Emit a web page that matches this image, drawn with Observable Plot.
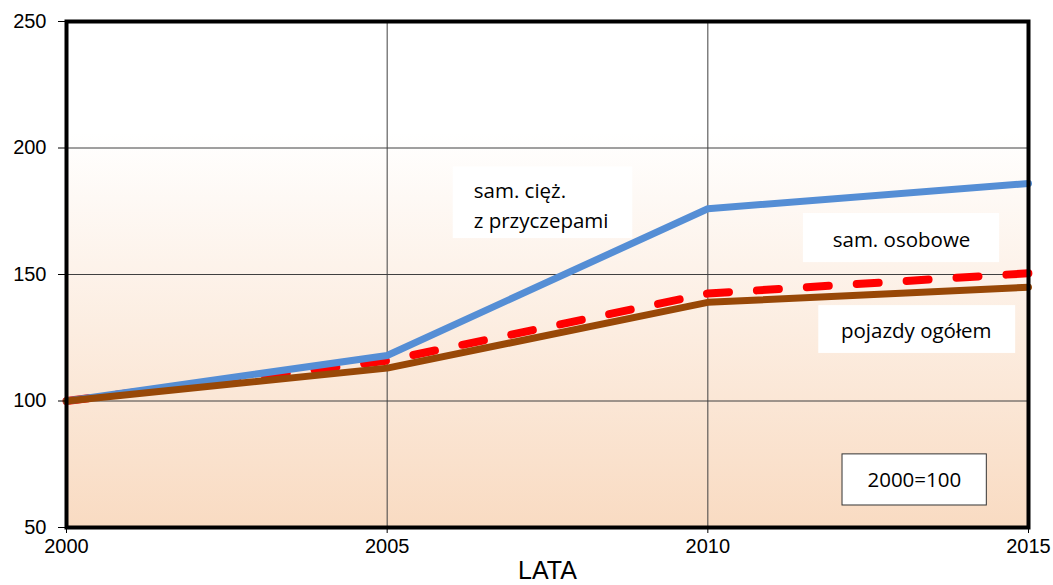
<!DOCTYPE html>
<html>
<head>
<meta charset="utf-8">
<script src="https://cdn.jsdelivr.net/npm/d3@7"></script>
<script src="https://cdn.jsdelivr.net/npm/@observablehq/plot@0.6"></script>
<style>
  html, body { margin: 0; padding: 0; background: #ffffff; }
  #chart svg { display: block; }
</style>
</head>
<body>
<div id="chart"></div>
<script>
// ---- data ----
const years = [2000, 2005, 2010, 2015];
const ciezarowe = [100, 118, 176, 186];   // sam. cięż. z przyczepami
const osobowe = [100, 116, 142.5, 150.5]; // sam. osobowe
const ogolem = [100, 113, 139, 145];      // pojazdy ogółem
const yTicks = [50, 100, 150, 200, 250];
const xLabel = "LATA";

// annotation boxes (in data units)
const boxes = [
  {x1: 2006.03, x2: 2008.83, y1: 164.2, y2: 192.5},
  {x1: 2011.49, x2: 2014.55, y1: 154.7, y2: 174.1},
  {x1: 2011.73, x2: 2014.80, y1: 118.8, y2: 137.7}
];
const noteBox = [{x1: 2012.10, x2: 2014.35, y1: 58.7, y2: 78.9}];
const leftLabels = [
  {x: 2006.35, y: 178.1, text: "sam. cięż.\nz przyczepami"}
];
const centerLabels = [
  {x: 2013.02, y: 163.4, text: "sam. osobowe"},
  {x: 2013.25, y: 127.5, text: "pojazdy ogółem"},
  {x: 2013.22, y: 68.6, text: "2000=100"}
];

const series = (vals) => years.map((y, i) => ({year: y, value: vals[i]}));
const labelFont = "'Open Sans', Lato, sans-serif";

const chart = Plot.plot({
  width: 1053,
  height: 585,
  marginLeft: 66,
  marginRight: 25,
  marginTop: 21,
  marginBottom: 58,
  style: {fontFamily: "'Liberation Sans', Arial, sans-serif", background: "#ffffff", fontSize: "20px"},
  x: {domain: [2000, 2015]},
  y: {domain: [50, 250]},
  marks: [
    Plot.frame({fill: "url(#bgGrad)", stroke: "none"}),
    Plot.gridX([2005, 2010], {stroke: "#404040", strokeOpacity: 1, strokeWidth: 1}),
    Plot.gridY([100, 150, 200], {stroke: "#404040", strokeOpacity: 1, strokeWidth: 1}),
    Plot.line(series(osobowe), {x: "year", y: "value", stroke: "#ff0000", strokeWidth: 8,
      strokeDasharray: "22,28", strokeLinecap: "round", strokeLinejoin: "round"}),
    Plot.line(series(ciezarowe), {x: "year", y: "value", stroke: "#558ed5", strokeWidth: 7, strokeLinejoin: "round"}),
    Plot.line(series(ogolem), {x: "year", y: "value", stroke: "#984807", strokeWidth: 7, strokeLinejoin: "round"}),
    Plot.rect(boxes, {x1: "x1", x2: "x2", y1: "y1", y2: "y2", fill: "#ffffff"}),
    Plot.rect(noteBox, {x1: "x1", x2: "x2", y1: "y1", y2: "y2", fill: "#ffffff", stroke: "#333333", strokeWidth: 1}),
    Plot.text(leftLabels, {x: "x", y: "y", text: "text", textAnchor: "start", fontSize: 20.5,
      lineHeight: 1.46, fill: "#000000", fontFamily: labelFont}),
    Plot.text(centerLabels, {x: "x", y: "y", text: "text", textAnchor: "middle", fontSize: 20.5,
      fill: "#000000", fontFamily: labelFont}),
    Plot.frame({stroke: "#000000", strokeWidth: 4}),
    Plot.axisY(yTicks, {tickSize: 8, tickPadding: 12, fontSize: 20, label: null, stroke: "#000"}),
    Plot.axisX(years, {tickSize: 6, tickPadding: 5, fontSize: 20, tickFormat: d => String(d),
      label: null, stroke: "#000"}),
    Plot.text([xLabel], {frameAnchor: "bottom", dy: 51, text: d => d, fontSize: 25, fill: "#000"})
  ]
});

// gradient definition
const svg = d3.select(chart);
const defs = svg.insert("defs", ":first-child");
const grad = defs.append("linearGradient")
  .attr("id", "bgGrad").attr("x1", 0).attr("y1", 0).attr("x2", 0).attr("y2", 1);
grad.append("stop").attr("offset", "0%").attr("stop-color", "#ffffff");
grad.append("stop").attr("offset", "22%").attr("stop-color", "#ffffff");
grad.append("stop").attr("offset", "100%").attr("stop-color", "#f9dbc2");

document.getElementById("chart").appendChild(chart);
</script>
</body>
</html>
